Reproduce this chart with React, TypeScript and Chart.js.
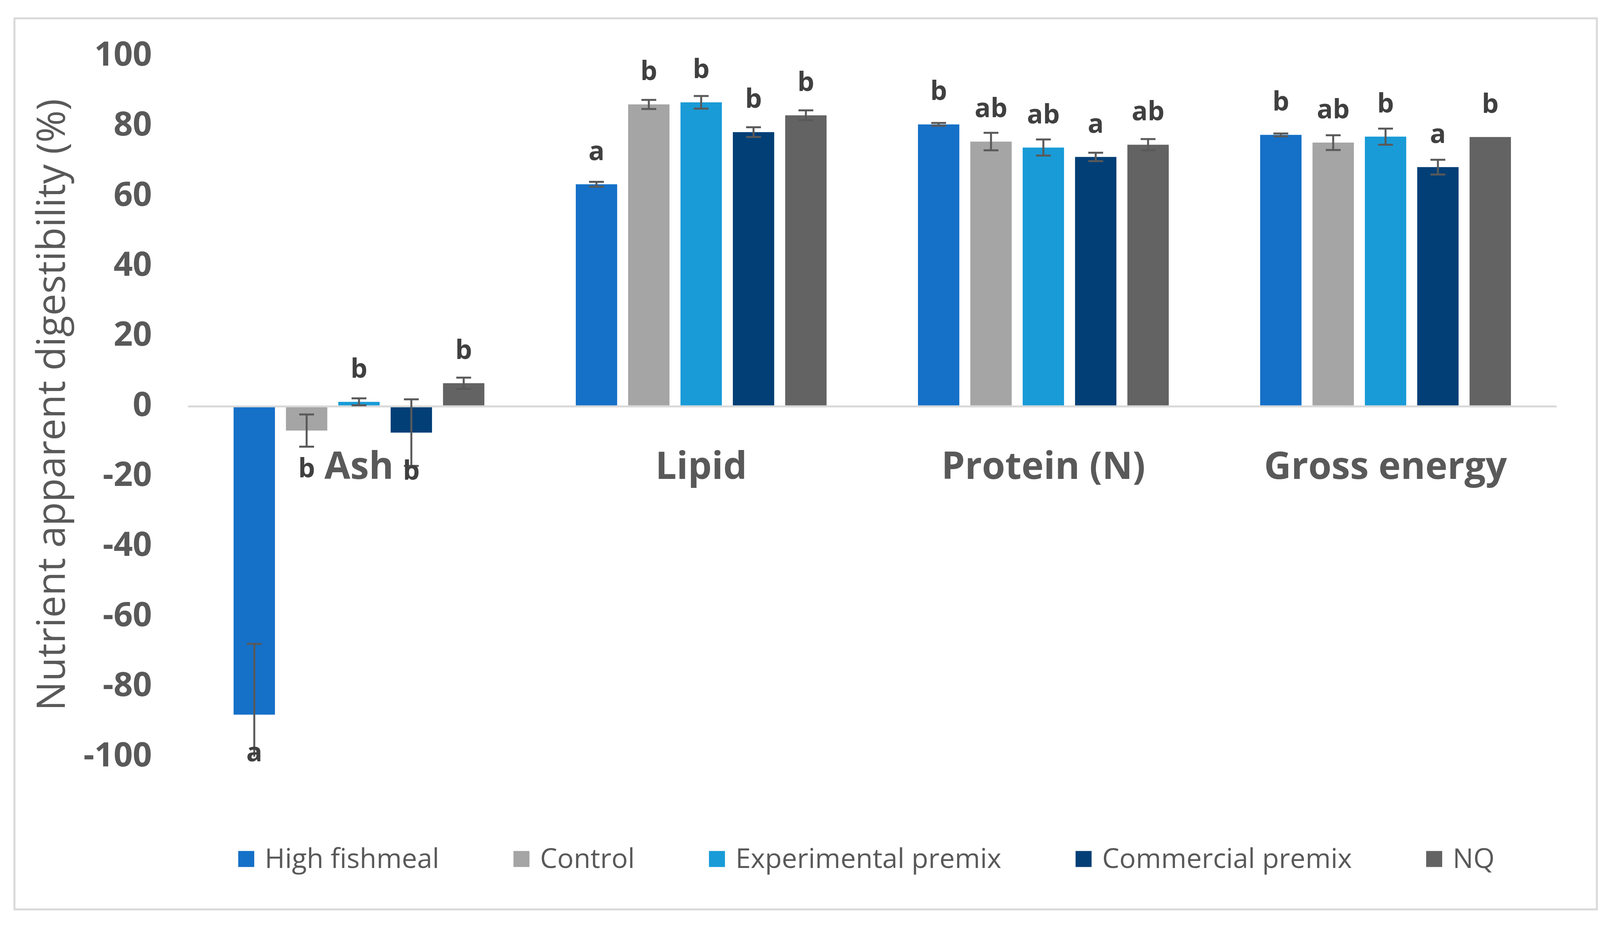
import React, { useEffect, useRef } from "react";
import { Chart, registerables } from "chart.js";
Chart.register(...registerables);

const categories = ["Ash", "Lipid", "Protein (N)", "Gross energy"];
const seriesNames = ["High fishmeal", "Control", "Experimental premix", "Commercial premix", "NQ"];
const seriesColors = ["#1570C8", "#A5A5A5", "#199BD7", "#023F76", "#636363"];

const highFishmeal = [-88.0, 63.4, 80.5, 77.5];
const control = [-6.9, 86.2, 75.6, 75.3];
const experimentalPremix = [1.3, 86.8, 73.9, 77.0];
const commercialPremix = [-7.5, 78.3, 71.2, 68.3];
const nq = [6.6, 83.1, 74.7, 76.9];

const highFishmealErr = [20.2, 0.7, 0.4, 0.4];
const controlErr = [4.6, 1.3, 2.5, 2.1];
const experimentalPremixErr = [1.0, 1.8, 2.3, 2.3];
const commercialPremixErr = [9.5, 1.4, 1.2, 2.1];
const nqErr = [1.6, 1.4, 1.6, 0];

const highFishmealLetters = ["a", "a", "b", "b"];
const controlLetters = ["b", "b", "ab", "ab"];
const experimentalPremixLetters = ["b", "b", "ab", "b"];
const commercialPremixLetters = ["b", "b", "a", "a"];
const nqLetters = ["b", "b", "ab", "b"];

const yMin = -100;
const yMax = 100;
const yStep = 20;
const yTitle = "Nutrient apparent digestibility (%)";

const seriesValues = [highFishmeal, control, experimentalPremix, commercialPremix, nq];
const seriesErrors = [highFishmealErr, controlErr, experimentalPremixErr, commercialPremixErr, nqErr];
const seriesLetters = [highFishmealLetters, controlLetters, experimentalPremixLetters, commercialPremixLetters, nqLetters];

const FONT = "'Open Sans', 'Noto Sans', sans-serif";
const W = 4124;
const H = 2368;

const decorPlugin = {
  id: "decor",
  beforeDraw(chart: any) {
    const ctx = chart.ctx;
    ctx.save();
    ctx.fillStyle = "#FFFFFF";
    ctx.fillRect(0, 0, chart.width, chart.height);
    ctx.strokeStyle = "#D9D9D9";
    ctx.lineWidth = 5;
    ctx.strokeRect(37, 47, 4051, 2281);
    ctx.restore();
  },
  afterDatasetsDraw(chart: any) {
    const ctx = chart.ctx;
    const area = chart.chartArea;
    const ys = chart.scales.y;
    const xs = chart.scales.x;
    ctx.save();
    // error bars (clipped to the plot area)
    ctx.beginPath();
    ctx.rect(area.left, area.top, area.right - area.left, area.bottom - area.top);
    ctx.clip();
    ctx.strokeStyle = "#595959";
    ctx.lineWidth = 5;
    chart.data.datasets.forEach((ds: any, di: number) => {
      const meta = chart.getDatasetMeta(di);
      meta.data.forEach((el: any, i: number) => {
        const v = seriesValues[di][i];
        const e = seriesErrors[di][i];
        if (!e) return;
        const yTop = ys.getPixelForValue(v + e);
        const yBot = ys.getPixelForValue(v - e);
        const cw = 19;
        ctx.beginPath();
        ctx.moveTo(el.x, yTop);
        ctx.lineTo(el.x, yBot);
        ctx.moveTo(el.x - cw, yTop);
        ctx.lineTo(el.x + cw, yTop);
        ctx.moveTo(el.x - cw, yBot);
        ctx.lineTo(el.x + cw, yBot);
        ctx.stroke();
      });
    });
    ctx.restore();

    ctx.save();
    // significance letters
    ctx.fillStyle = "#404040";
    ctx.font = `bold 68px ${FONT}`;
    ctx.textAlign = "center";
    ctx.textBaseline = "alphabetic";
    chart.data.datasets.forEach((ds: any, di: number) => {
      const meta = chart.getDatasetMeta(di);
      meta.data.forEach((el: any, i: number) => {
        const v = seriesValues[di][i];
        const py = ys.getPixelForValue(v);
        const baseY = v >= 0 ? py - 62 : py + 120;
        ctx.fillText(seriesLetters[di][i], el.x, baseY);
      });
    });
    // category labels next to the zero line
    ctx.fillStyle = "#595959";
    ctx.font = `bold 96px ${FONT}`;
    const zeroY = ys.getPixelForValue(0);
    categories.forEach((c, i) => {
      ctx.fillText(c, xs.getPixelForValue(i), zeroY + 186);
    });
    ctx.restore();
  },
  afterDraw(chart: any) {
    const ctx = chart.ctx;
    const area = chart.chartArea;
    ctx.save();
    // y title
    ctx.fillStyle = "#595959";
    ctx.font = `100px ${FONT}`;
    ctx.textAlign = "center";
    ctx.textBaseline = "alphabetic";
    ctx.translate(166, (area.top + area.bottom) / 2 - 4);
    ctx.rotate(-Math.PI / 2);
    ctx.fillText(yTitle, 0, 0);
    ctx.restore();

    // legend
    ctx.save();
    ctx.font = `70px ${FONT}`;
    const box = 41;
    const gapText = 27;
    const gapItem = 190;
    const widths = seriesNames.map((n) => ctx.measureText(n).width);
    const total = widths.reduce((a, w) => a + box + gapText + w, 0) + gapItem * (seriesNames.length - 1);
    let x = 2218 - total / 2;
    const cy = 2199;
    ctx.textBaseline = "middle";
    ctx.textAlign = "left";
    seriesNames.forEach((n, i) => {
      ctx.fillStyle = seriesColors[i];
      ctx.fillRect(x, cy - box / 2, box, box);
      ctx.fillStyle = "#595959";
      ctx.fillText(n, x + box + gapText, cy + 3);
      x += box + gapText + widths[i] + gapItem;
    });
    ctx.restore();
  },
};

export default function App() {
  const ref = useRef<HTMLCanvasElement | null>(null);
  useEffect(() => {
    if (!ref.current) return;
    const chart = new Chart(ref.current, {
      type: "bar",
      data: {
        labels: categories,
        datasets: seriesNames.map((name, i) => ({
          label: name,
          data: seriesValues[i],
          backgroundColor: seriesColors[i],
          borderWidth: 0,
          categoryPercentage: 0.765,
          barPercentage: 0.79,
        })),
      },
      options: {
        animation: false,
        responsive: false,
        devicePixelRatio: 1,
        layout: { padding: { left: 0, top: 109, right: 139, bottom: 431 } },
        plugins: { legend: { display: false }, tooltip: { enabled: false } },
        scales: {
          x: { display: false },
          y: {
            min: yMin,
            max: yMax,
            afterFit: (scale: any) => {
              scale.width = 481;
            },
            ticks: {
              stepSize: yStep,
              padding: 92,
              color: "#595959",
              font: { family: FONT, size: 86, weight: "bold" },
            },
            grid: {
              drawTicks: false,
              lineWidth: 5,
              color: (c: any) => (c.tick && c.tick.value === 0 ? "#D9D9D9" : "rgba(0,0,0,0)"),
            },
            border: { display: false },
          },
        },
      },
      plugins: [decorPlugin],
    });
    return () => chart.destroy();
  }, []);
  return (
    <div style={{ position: "fixed", left: 0, top: 0, width: W, height: H, background: "#fff" }}>
      <canvas ref={ref} width={W} height={H} style={{ width: W, height: H, display: "block" }} />
    </div>
  );
}
